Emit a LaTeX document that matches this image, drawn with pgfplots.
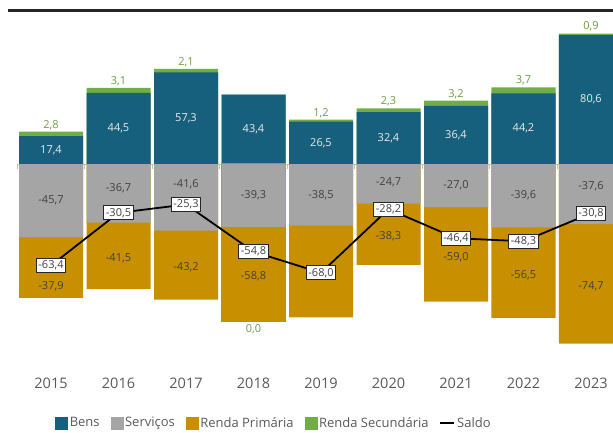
\documentclass[border=0pt]{standalone}
\usepackage{pgfplots}
\pgfplotsset{compat=1.18}
\usepackage{pgfplotstable}
\usepackage{fontspec}
\setmainfont{Open Sans}

\definecolor{bens}{HTML}{17607D}
\definecolor{serv}{HTML}{A5A5A5}
\definecolor{rp}{HTML}{C89000}
\definecolor{rs}{HTML}{70AD47}
\definecolor{rstext}{HTML}{6A9E45}
\definecolor{txt}{HTML}{404040}
\definecolor{axtxt}{HTML}{595959}

\pgfplotstableread{
x year bens serv rp rs saldo rpoff servoff
0 2015 17.4 -45.7 -37.9 2.8 -63.4 -10 0
1 2016 44.5 -36.7 -41.5 3.1 -30.5 0 3
2 2017 57.3 -41.6 -43.2 2.1 -25.3 0 8
3 2018 43.4 -39.3 -58.8 0.0 -54.8 0 0
4 2019 26.5 -38.5 -57.3 1.2 -68.0 0 0
5 2020 32.4 -24.7 -38.3 2.3 -28.2 0 1
6 2021 36.4 -27.0 -59.0 3.2 -46.4 0 0
7 2022 44.2 -39.6 -56.5 3.7 -48.3 0 0
8 2023 80.6 -37.6 -74.7 0.9 -30.8 0 5
}\data

\pgfplotstableread{
x serv rp rs
3 -39.3 -58.8 0.0
}\rsneg

\begin{document}
\begin{tikzpicture}
\begin{axis}[
  at={(0pt,0pt)}, anchor=south west,
  scale only axis, width=613pt, height=432pt,
  xmin=-0.7556, xmax=8.326, ymin=-167.5, ymax=102.5,
  axis lines=none,
  bar width=64pt,
  /pgf/number format/.cd, fixed, fixed zerofill, precision=1, use comma, assume math mode=true,
  /pgfplots/.cd,
  legend style={draw=none, fill=none, at={(0.447,0.021)}, anchor=center,
    font=\fontsize{13}{15}\selectfont, text=axtxt,
    /tikz/every even column/.append style={column sep=9pt},
    inner sep=0pt},
  legend columns=5,
  legend cell align=left,
]
% zero line
\draw[color=black!25, line width=0.8pt] (axis cs:-0.5,0) -- (axis cs:8.4,0);
\pgfplotsinvokeforeach{0,...,9}{
  \draw[color=black!25, line width=0.8pt] (axis cs:#1-0.5,0) -- (axis cs:#1-0.5,-3.2);
}
% positive stack (drawn as overlapping bars from zero)
\addplot[ybar, bar shift=0pt, fill=rs, draw=none, forget plot] table[x=x, y expr=\thisrow{bens}+\thisrow{rs}] {\data};
\addplot[ybar, bar shift=0pt, fill=bens, draw=none, forget plot] table[x=x, y=bens] {\data};
% negative stack
\addplot[ybar, bar shift=0pt, fill=rs, draw=rs, line width=1.2pt, forget plot] table[x=x, y expr=\thisrow{serv}+\thisrow{rp}+\thisrow{rs}] {\rsneg};
\addplot[ybar, bar shift=0pt, fill=rp, draw=none, forget plot] table[x=x, y expr=\thisrow{serv}+\thisrow{rp}] {\data};
\addplot[ybar, bar shift=0pt, fill=serv, draw=none, forget plot] table[x=x, y=serv] {\data};

% segment labels
\addplot[draw=none, mark=none, forget plot, nodes near coords, point meta=\thisrow{bens},
  every node near coord/.style={anchor=center, text=white!92!black, font=\fontsize{11}{13}\selectfont}]
  table[x=x, y expr=\thisrow{bens}/2] {\data};
\addplot[draw=none, mark=none, forget plot, nodes near coords, point meta=\thisrow{serv},
  every node near coord/.style={anchor=center, text=txt, font=\fontsize{11}{13}\selectfont}]
  table[x=x, y expr=\thisrow{serv}/2+\thisrow{servoff}] {\data};
\addplot[draw=none, mark=none, forget plot, nodes near coords, point meta=\thisrow{rp},
  every node near coord/.style={anchor=center, text=txt, font=\fontsize{11}{13}\selectfont}]
  table[x=x, y expr=\thisrow{serv}+\thisrow{rp}/2+\thisrow{rpoff}-1.5] {\data};
\addplot[draw=none, mark=none, forget plot, nodes near coords, point meta=\thisrow{rs},
  skip coords between index={3}{4},
  every node near coord/.style={anchor=south, text=rstext, font=\fontsize{11}{13}\selectfont, inner sep=2pt}]
  table[x=x, y expr=\thisrow{bens}+\thisrow{rs}] {\data};
\addplot[draw=none, mark=none, forget plot, nodes near coords, point meta=\thisrow{rs},
  every node near coord/.style={anchor=north, text=rstext, font=\fontsize{11}{13}\selectfont, inner sep=3pt}]
  table[x=x, y expr=\thisrow{serv}+\thisrow{rp}] {\rsneg};

% saldo line
\addplot[black, line width=1.8pt, mark=none, forget plot, nodes near coords, point meta=\thisrow{saldo},
  every node near coord/.style={anchor=center, fill=white, draw=black!85, line width=0.9pt,
    text=txt, font=\fontsize{11}{13}\selectfont, inner sep=2.2pt}]
  table[x=x, y=saldo] {\data};

% year labels
\addplot[draw=none, mark=none, forget plot, nodes near coords, point meta=explicit symbolic,
  every node near coord/.style={anchor=center, text=axtxt, font=\fontsize{14.5}{17}\selectfont}]
  table[x=x, y expr=-137, meta=year] {\data};

% legend
\addlegendimage{legend image code/.code={\fill[bens] (0pt,-6pt) rectangle (12pt,6pt);}}
\addlegendentry{Bens}
\addlegendimage{legend image code/.code={\fill[serv] (0pt,-6pt) rectangle (12pt,6pt);}}
\addlegendentry{Serviços}
\addlegendimage{legend image code/.code={\fill[rp] (0pt,-6pt) rectangle (12pt,6pt);}}
\addlegendentry{Renda Primária}
\addlegendimage{legend image code/.code={\fill[rs] (0pt,-6pt) rectangle (12pt,6pt);}}
\addlegendentry{Renda Secundária}
\addlegendimage{legend image code/.code={\draw[black, line width=1.6pt] (0pt,0pt) -- (14pt,0pt);}}
\addlegendentry{Saldo}
\end{axis}
\draw[color=black!85, line width=3pt] (8pt,421pt) -- (613pt,421pt);
\pgfresetboundingbox
\path[use as bounding box] (0pt,0pt) rectangle (613pt,432pt);
\end{tikzpicture}
\end{document}
